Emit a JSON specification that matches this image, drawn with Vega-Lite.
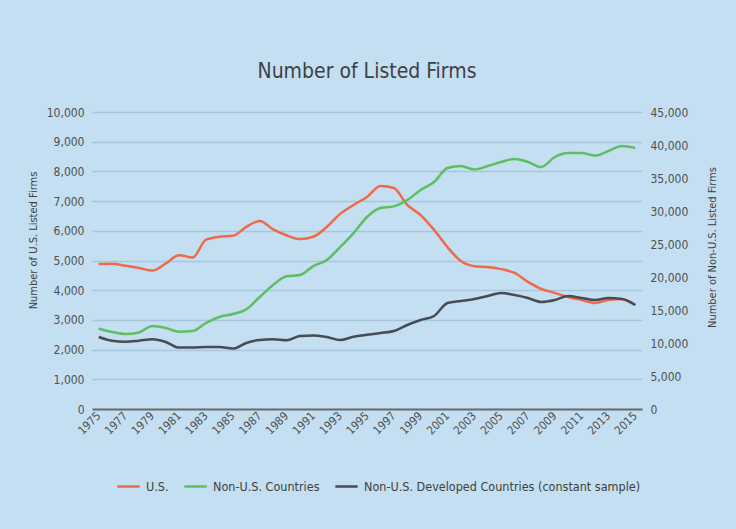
{
  "$schema": "https://vega.github.io/schema/vega-lite/v6.json",
  "width": 550,
  "height": 297,
  "autosize": {"type": "none"},
  "padding": {"left": 92, "top": 112, "right": 94, "bottom": 120},
  "background": "#c4dff2",
  "config": {
    "font": "DejaVu Sans Condensed, Liberation Sans Narrow, sans-serif",
    "view": {"stroke": null},
    "axis": {"labelColor": "#505050", "titleColor": "#404040", "labelFontSize": 12, "titleFontSize": 11, "titleFontWeight": "normal"}
  },
  "title": {"text": "Number of Listed Firms", "fontSize": 21, "fontWeight": "normal", "color": "#404040", "anchor": "middle", "offset": 24},
  "data": {"values": [
    {"year": "1975", "series": "U.S.", "value": 4880},
    {"year": "1976", "series": "U.S.", "value": 4890},
    {"year": "1977", "series": "U.S.", "value": 4820},
    {"year": "1978", "series": "U.S.", "value": 4750},
    {"year": "1979", "series": "U.S.", "value": 4660},
    {"year": "1980", "series": "U.S.", "value": 4900},
    {"year": "1981", "series": "U.S.", "value": 5180},
    {"year": "1982", "series": "U.S.", "value": 5100},
    {"year": "1983", "series": "U.S.", "value": 5700},
    {"year": "1984", "series": "U.S.", "value": 5800},
    {"year": "1985", "series": "U.S.", "value": 5830},
    {"year": "1986", "series": "U.S.", "value": 6130},
    {"year": "1987", "series": "U.S.", "value": 6330},
    {"year": "1988", "series": "U.S.", "value": 6050},
    {"year": "1989", "series": "U.S.", "value": 5850},
    {"year": "1990", "series": "U.S.", "value": 5720},
    {"year": "1991", "series": "U.S.", "value": 5800},
    {"year": "1992", "series": "U.S.", "value": 6130},
    {"year": "1993", "series": "U.S.", "value": 6570},
    {"year": "1994", "series": "U.S.", "value": 6870},
    {"year": "1995", "series": "U.S.", "value": 7140},
    {"year": "1996", "series": "U.S.", "value": 7510},
    {"year": "1997", "series": "U.S.", "value": 7440},
    {"year": "1998", "series": "U.S.", "value": 6870},
    {"year": "1999", "series": "U.S.", "value": 6530},
    {"year": "2000", "series": "U.S.", "value": 6030},
    {"year": "2001", "series": "U.S.", "value": 5450},
    {"year": "2002", "series": "U.S.", "value": 4980},
    {"year": "2003", "series": "U.S.", "value": 4810},
    {"year": "2004", "series": "U.S.", "value": 4780},
    {"year": "2005", "series": "U.S.", "value": 4710},
    {"year": "2006", "series": "U.S.", "value": 4580},
    {"year": "2007", "series": "U.S.", "value": 4280},
    {"year": "2008", "series": "U.S.", "value": 4040},
    {"year": "2009", "series": "U.S.", "value": 3910},
    {"year": "2010", "series": "U.S.", "value": 3770},
    {"year": "2011", "series": "U.S.", "value": 3670},
    {"year": "2012", "series": "U.S.", "value": 3570},
    {"year": "2013", "series": "U.S.", "value": 3670},
    {"year": "2014", "series": "U.S.", "value": 3700},
    {"year": "2015", "series": "U.S.", "value": 3500},
    {"year": "1975", "series": "Non-U.S. Countries", "value": 12150},
    {"year": "1976", "series": "Non-U.S. Countries", "value": 11670},
    {"year": "1977", "series": "Non-U.S. Countries", "value": 11360},
    {"year": "1978", "series": "Non-U.S. Countries", "value": 11600},
    {"year": "1979", "series": "Non-U.S. Countries", "value": 12570},
    {"year": "1980", "series": "Non-U.S. Countries", "value": 12270},
    {"year": "1981", "series": "Non-U.S. Countries", "value": 11700},
    {"year": "1982", "series": "Non-U.S. Countries", "value": 11820},
    {"year": "1983", "series": "Non-U.S. Countries", "value": 13030},
    {"year": "1984", "series": "Non-U.S. Countries", "value": 13940},
    {"year": "1985", "series": "Non-U.S. Countries", "value": 14390},
    {"year": "1986", "series": "Non-U.S. Countries", "value": 15100},
    {"year": "1987", "series": "Non-U.S. Countries", "value": 16970},
    {"year": "1988", "series": "Non-U.S. Countries", "value": 18790},
    {"year": "1989", "series": "Non-U.S. Countries", "value": 20100},
    {"year": "1990", "series": "Non-U.S. Countries", "value": 20300},
    {"year": "1991", "series": "Non-U.S. Countries", "value": 21660},
    {"year": "1992", "series": "Non-U.S. Countries", "value": 22570},
    {"year": "1993", "series": "Non-U.S. Countries", "value": 24540},
    {"year": "1994", "series": "Non-U.S. Countries", "value": 26660},
    {"year": "1995", "series": "Non-U.S. Countries", "value": 29090},
    {"year": "1996", "series": "Non-U.S. Countries", "value": 30450},
    {"year": "1997", "series": "Non-U.S. Countries", "value": 30700},
    {"year": "1998", "series": "Non-U.S. Countries", "value": 31660},
    {"year": "1999", "series": "Non-U.S. Countries", "value": 33180},
    {"year": "2000", "series": "Non-U.S. Countries", "value": 34390},
    {"year": "2001", "series": "Non-U.S. Countries", "value": 36510},
    {"year": "2002", "series": "Non-U.S. Countries", "value": 36810},
    {"year": "2003", "series": "Non-U.S. Countries", "value": 36300},
    {"year": "2004", "series": "Non-U.S. Countries", "value": 36810},
    {"year": "2005", "series": "Non-U.S. Countries", "value": 37420},
    {"year": "2006", "series": "Non-U.S. Countries", "value": 37880},
    {"year": "2007", "series": "Non-U.S. Countries", "value": 37420},
    {"year": "2008", "series": "Non-U.S. Countries", "value": 36660},
    {"year": "2009", "series": "Non-U.S. Countries", "value": 38180},
    {"year": "2010", "series": "Non-U.S. Countries", "value": 38780},
    {"year": "2011", "series": "Non-U.S. Countries", "value": 38780},
    {"year": "2012", "series": "Non-U.S. Countries", "value": 38400},
    {"year": "2013", "series": "Non-U.S. Countries", "value": 39090},
    {"year": "2014", "series": "Non-U.S. Countries", "value": 39840},
    {"year": "2015", "series": "Non-U.S. Countries", "value": 39540},
    {"year": "1975", "series": "Non-U.S. Developed Countries (constant sample)", "value": 10910},
    {"year": "1976", "series": "Non-U.S. Developed Countries (constant sample)", "value": 10350},
    {"year": "1977", "series": "Non-U.S. Developed Countries (constant sample)", "value": 10200},
    {"year": "1978", "series": "Non-U.S. Developed Countries (constant sample)", "value": 10350},
    {"year": "1979", "series": "Non-U.S. Developed Countries (constant sample)", "value": 10550},
    {"year": "1980", "series": "Non-U.S. Developed Countries (constant sample)", "value": 10150},
    {"year": "1981", "series": "Non-U.S. Developed Countries (constant sample)", "value": 9300},
    {"year": "1982", "series": "Non-U.S. Developed Countries (constant sample)", "value": 9300},
    {"year": "1983", "series": "Non-U.S. Developed Countries (constant sample)", "value": 9390},
    {"year": "1984", "series": "Non-U.S. Developed Countries (constant sample)", "value": 9390},
    {"year": "1985", "series": "Non-U.S. Developed Countries (constant sample)", "value": 9150},
    {"year": "1986", "series": "Non-U.S. Developed Countries (constant sample)", "value": 10000},
    {"year": "1987", "series": "Non-U.S. Developed Countries (constant sample)", "value": 10450},
    {"year": "1988", "series": "Non-U.S. Developed Countries (constant sample)", "value": 10550},
    {"year": "1989", "series": "Non-U.S. Developed Countries (constant sample)", "value": 10400},
    {"year": "1990", "series": "Non-U.S. Developed Countries (constant sample)", "value": 11050},
    {"year": "1991", "series": "Non-U.S. Developed Countries (constant sample)", "value": 11150},
    {"year": "1992", "series": "Non-U.S. Developed Countries (constant sample)", "value": 10900},
    {"year": "1993", "series": "Non-U.S. Developed Countries (constant sample)", "value": 10450},
    {"year": "1994", "series": "Non-U.S. Developed Countries (constant sample)", "value": 10950},
    {"year": "1995", "series": "Non-U.S. Developed Countries (constant sample)", "value": 11250},
    {"year": "1996", "series": "Non-U.S. Developed Countries (constant sample)", "value": 11510},
    {"year": "1997", "series": "Non-U.S. Developed Countries (constant sample)", "value": 11820},
    {"year": "1998", "series": "Non-U.S. Developed Countries (constant sample)", "value": 12730},
    {"year": "1999", "series": "Non-U.S. Developed Countries (constant sample)", "value": 13480},
    {"year": "2000", "series": "Non-U.S. Developed Countries (constant sample)", "value": 14090},
    {"year": "2001", "series": "Non-U.S. Developed Countries (constant sample)", "value": 16060},
    {"year": "2002", "series": "Non-U.S. Developed Countries (constant sample)", "value": 16360},
    {"year": "2003", "series": "Non-U.S. Developed Countries (constant sample)", "value": 16670},
    {"year": "2004", "series": "Non-U.S. Developed Countries (constant sample)", "value": 17120},
    {"year": "2005", "series": "Non-U.S. Developed Countries (constant sample)", "value": 17570},
    {"year": "2006", "series": "Non-U.S. Developed Countries (constant sample)", "value": 17270},
    {"year": "2007", "series": "Non-U.S. Developed Countries (constant sample)", "value": 16820},
    {"year": "2008", "series": "Non-U.S. Developed Countries (constant sample)", "value": 16210},
    {"year": "2009", "series": "Non-U.S. Developed Countries (constant sample)", "value": 16510},
    {"year": "2010", "series": "Non-U.S. Developed Countries (constant sample)", "value": 17120},
    {"year": "2011", "series": "Non-U.S. Developed Countries (constant sample)", "value": 16820},
    {"year": "2012", "series": "Non-U.S. Developed Countries (constant sample)", "value": 16510},
    {"year": "2013", "series": "Non-U.S. Developed Countries (constant sample)", "value": 16820},
    {"year": "2014", "series": "Non-U.S. Developed Countries (constant sample)", "value": 16670},
    {"year": "2015", "series": "Non-U.S. Developed Countries (constant sample)", "value": 15760}
  ]},
  "encoding": {
    "x": {
      "field": "year", "type": "ordinal",
      "scale": {"type": "point", "padding": 0.5},
      "axis": {
        "title": null,
        "values": ["1975","1977","1979","1981","1983","1985","1987","1989","1991","1993","1995","1997","1999","2001","2003","2005","2007","2009","2011","2013","2015"],
        "labelAngle": -45, "labelAlign": "right", "labelBaseline": "middle",
        "labelFontSize": 11.5, "labelPadding": 5,
        "ticks": false, "domainColor": "#6b6b6b", "domainWidth": 2, "grid": false
      }
    },
    "color": {
      "field": "series", "type": "nominal",
      "scale": {
        "domain": ["U.S.", "Non-U.S. Countries", "Non-U.S. Developed Countries (constant sample)"],
        "range": ["#ee6a48", "#5cbf62", "#474b55"]
      },
      "legend": {
        "title": null, "orient": "none", "direction": "horizontal",
        "legendX": 24, "legendY": 362,
        "symbolType": "stroke", "symbolStrokeWidth": 2.5, "symbolSize": 500,
        "labelFontSize": 12.5, "labelColor": "#404040", "columnPadding": 10, "labelOffset": 5, "labelLimit": 400
      }
    }
  },
  "layer": [
    {
      "transform": [{"filter": "datum.series === 'U.S.'"}],
      "mark": {"type": "line", "strokeWidth": 2.5, "interpolate": "monotone"},
      "encoding": {
        "y": {
          "field": "value", "type": "quantitative",
          "scale": {"domain": [0, 10000], "nice": false},
          "axis": {
            "title": "Number of U.S. Listed Firms",
            "values": [0,1000,2000,3000,4000,5000,6000,7000,8000,9000,10000],
            "format": ",d", "domain": false, "ticks": false, "labelPadding": 8,
            "gridColor": "#a7c6dc", "gridWidth": 1.5,
            "titleX": -59, "titleY": 128, "titleAngle": 270, "titleAlign": "center", "titleBaseline": "middle"
          }
        }
      }
    },
    {
      "transform": [{"filter": "datum.series !== 'U.S.'"}],
      "mark": {"type": "line", "strokeWidth": 2.5, "interpolate": "monotone"},
      "encoding": {
        "y": {
          "field": "value", "type": "quantitative",
          "scale": {"domain": [0, 45000], "nice": false},
          "axis": {
            "orient": "right",
            "title": "Number of Non-U.S. Listed Firms",
            "values": [0,5000,10000,15000,20000,25000,30000,35000,40000,45000],
            "format": ",d", "domain": false, "ticks": false, "grid": false, "labelPadding": 8,
            "titleX": 70, "titleY": 135, "titleAngle": 270, "titleAlign": "center", "titleBaseline": "middle"
          }
        }
      }
    }
  ],
  "resolve": {"scale": {"y": "independent"}}
}
